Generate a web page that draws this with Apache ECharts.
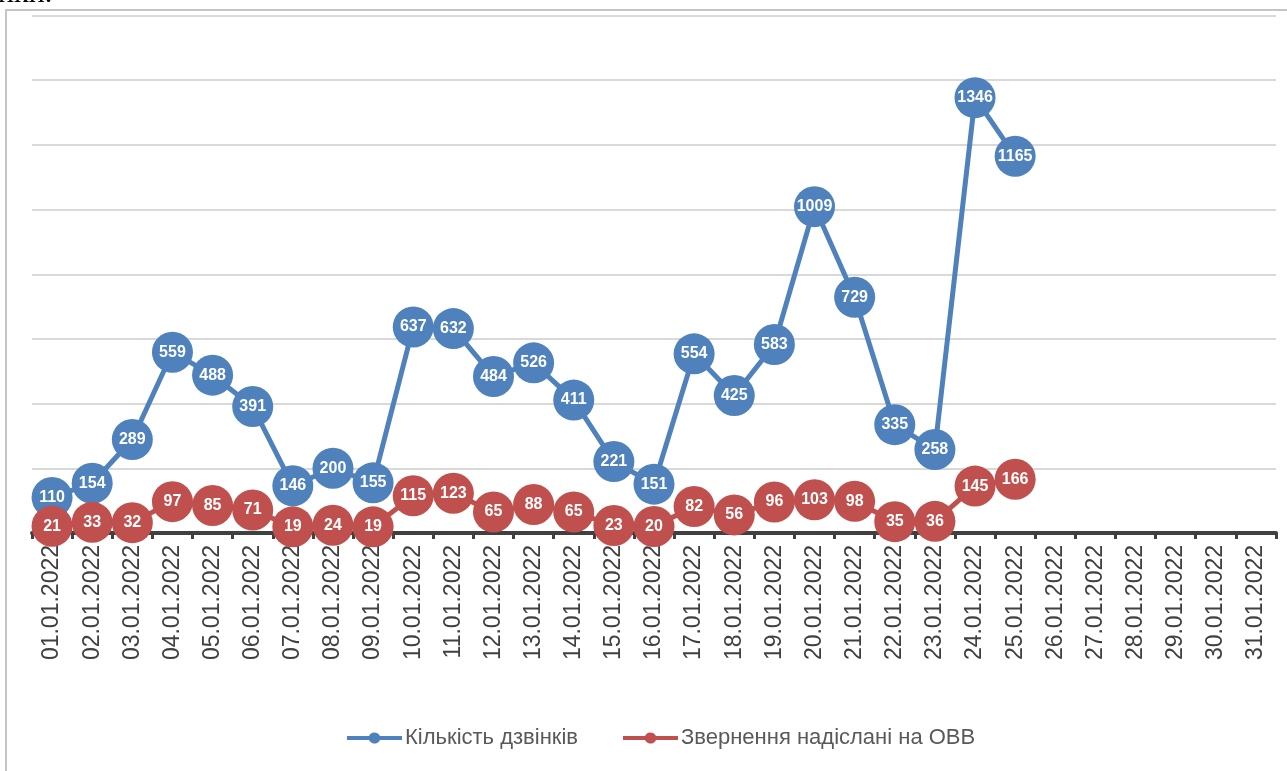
<!DOCTYPE html>
<html>
<head>
<meta charset="utf-8">
<script src="https://cdn.jsdelivr.net/npm/echarts@6/dist/echarts.min.js"></script>
<style>
html,body{margin:0;padding:0;background:#fff;}
#chart{width:1287px;height:771px;}
</style>
</head>
<body>
<div id="chart"></div>
<script>
var categories = ["01.01.2022","02.01.2022","03.01.2022","04.01.2022","05.01.2022","06.01.2022","07.01.2022","08.01.2022","09.01.2022","10.01.2022","11.01.2022","12.01.2022","13.01.2022","14.01.2022","15.01.2022","16.01.2022","17.01.2022","18.01.2022","19.01.2022","20.01.2022","21.01.2022","22.01.2022","23.01.2022","24.01.2022","25.01.2022","26.01.2022","27.01.2022","28.01.2022","29.01.2022","30.01.2022","31.01.2022"];
var calls = [110,154,289,559,488,391,146,200,155,637,632,484,526,411,221,151,554,425,583,1009,729,335,258,1346,1165];
var referrals = [21,33,32,97,85,71,19,24,19,115,123,65,88,65,23,20,82,56,96,103,98,35,36,145,166];
var seriesNames = ["Кількість дзвінків","Звернення надіслані на ОВВ"];

var blue = '#4f81bd', red = '#c0504d';
var chart = echarts.init(document.getElementById('chart'));
function mk(name, data, color){
  return {
    name: name, type: 'line', data: data,
    symbol: 'circle', symbolSize: 41,
    lineStyle: {color: color, width: 5},
    itemStyle: {color: color},
    label: {show: true, position: 'inside', color: '#fff', fontWeight: 'bold',
      fontFamily: 'Liberation Sans', fontSize: 16},
    emphasis: {disabled: true},
    animation: false
  };
}
// legend icon: horizontal line with a dot in the middle
var legendIcon = 'path://M0,4 L22,4 A6,6 0 0 1 33,4 L55,4 L55,8 L33,8 A6,6 0 0 1 22,8 L0,8 Z';
chart.setOption({
  animation: false,
  graphic: [
    {type: 'rect', shape: {x: 6, y: 10, width: 1290, height: 780},
     style: {fill: 'none', stroke: '#c4c4c4', lineWidth: 2}, z: -10},
    {type: 'text', left: -2, top: -21, style: {text: 'ики.', font: '30px "Liberation Serif"', fill: '#000'}}
  ],
  grid: {left: 32, right: 11, top: 15.5, bottom: 238, containLabel: false},
  legend: {
    bottom: 17, left: 342, itemWidth: 55, itemHeight: 12, itemGap: 45,
    textStyle: {color: '#595959', fontSize: 22, fontFamily: 'Liberation Sans', padding: [0,0,0,-2]},
    data: seriesNames.map(function(n){return {name: n, icon: legendIcon};})
  },
  xAxis: {
    type: 'category', data: categories, boundaryGap: true,
    axisLine: {lineStyle: {color: '#404040', width: 4}},
    axisTick: {show: true, length: 6, lineStyle: {color: '#404040', width: 3}},
    axisLabel: {rotate: 90, interval: 0, color: '#404040', fontSize: 23,
      fontFamily: 'Liberation Sans', margin: 12}
  },
  yAxis: {
    type: 'value', min: 0, max: 1600, interval: 200,
    axisLabel: {show: false}, axisLine: {show: false}, axisTick: {show: false},
    splitLine: {lineStyle: {color: '#d9d9d9', width: 2}}
  },
  series: [mk(seriesNames[0], calls, blue), mk(seriesNames[1], referrals, red)]
});
</script>
</body>
</html>
